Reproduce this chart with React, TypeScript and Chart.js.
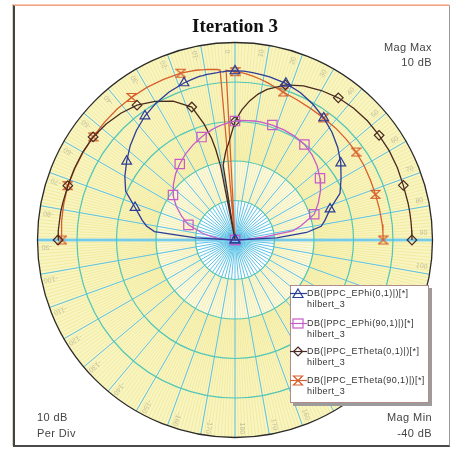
import React, { useEffect, useRef } from "react";
import { Chart, registerables } from "chart.js";
Chart.register(...registerables);

// angles in degrees (0 = top, clockwise positive)
const angleDeg = [-90, -87, -84, -81, -78, -72, -66, -60, -54, -48, -42, -36, -30, -24, -18, -15, -13, -12, -11, -10, -9, -6, -5, -4, -3, 0, 3, 6, 9, 12, 18, 24, 30, 36, 42, 48, 54, 60, 66, 72, 78, 81, 84, 87, 90];

const ephi0 = [-40, -30, -19.5, -17.3, -16, -13.4, -9.7, -7.8, -6.1, -4.3, -2.7, -1.2, 0, 1.0, 1.8, 2.1, 2.3, 2.4, 2.4, 2.5, 2.5, 2.6, 2.7, 2.7, 2.8, 2.8, 2.8, 2.6, 2.4, 2.2, 1.7, 0.8, -0.4, -1.8, -3.3, -5, -6.9, -9, -10.9, -14.7, -16.8, -17.9, -21.8, -29.4, -40];

const ephi90 = [-40, -38, -35.5, -33.5, -31.5, -27.6, -25.2, -22.8, -20.6, -19, -17.5, -16.2, -14.9, -13.7, -12.6, -12.0, -11.7, -11.5, -11.3, -11.2, -11.0, -10.6, -10.5, -10.4, -10.2, -9.9, -9.7, -9.6, -9.5, -9.4, -9.4, -9.5, -9.7, -10.1, -10.9, -12, -13.4, -15, -16.9, -18.9, -23, -25.2, -32.5, -37, -40];

const etheta0 = [4.8, 4.8, 4.7, 4.7, 4.6, 4.5, 4.5, 4.5, 4.4, 3.9, 3.2, 2.2, 0.5, -1.5, -4.6, -9.5, -13.5, -16.5, -21, -40, -20.8, -17.5, -16.5, -15.7, -14.5, -10, -7, -4.6, -2.6, -1.0, 1.3, 2.7, 3.7, 4.5, 4.9, 5.1, 5.1, 5.1, 5.0, 4.8, 4.8, 4.8, 4.8, 4.8, 4.8];

const etheta90 = [3.8, 4.0, 4.1, 4.2, 4.3, 4.5, 4.4, 4.4, 4.4, 4.5, 4.6, 4.6, 4.6, 4.5, 4.4, 4.2, 4.1, 4.0, 3.9, 3.8, 3.7, 3.4, 3.2, -40, 3.0, 2.6, 2.3, 1.8, 1.2, 0.6, -0.6, -1.2, -1.6, -1.8, -1.9, -2.0, -2.1, -2.3, -2.5, -2.6, -2.6, -2.6, -2.5, -2.5, -2.5];

const markerAngles = [-90, -72, -54, -36, -18, 0, 18, 36, 54, 72, 90];

const seriesNames = [
  "DB(|PPC_EPhi(0,1)|)[*]",
  "DB(|PPC_EPhi(90,1)|)[*]",
  "DB(|PPC_ETheta(0,1)|)[*]",
  "DB(|PPC_ETheta(90,1)|)[*]",
];
const sourceName = "hilbert_3";
const seriesColors = ["#2c3c98", "#c65cc8", "#4a2a20", "#d6602c"];

const magMax = 10;
const magMin = -40;
const perDiv = 10;
const gridLabelAngles = [-170, -160, -150, -140, -130, -120, -110, -100, -90, -80, -70, -60, -50, -40, -30, -20, -10, 0, 10, 20, 30, 40, 50, 60, 70, 80, 90, 100, 110, 120, 130, 140, 150, 160, 170, 180];

const titleText = "Iteration 3";

function toXY(values: number[]) {
  return values.map((v, i) => {
    const r = Math.max(v, magMin) - magMin;
    const t = (angleDeg[i] * Math.PI) / 180;
    return { x: r * Math.sin(t), y: r * Math.cos(t) };
  });
}

function makeHourglass(color: string) {
  const c = document.createElement("canvas");
  c.width = 11;
  c.height = 11;
  const g = c.getContext("2d")!;
  g.strokeStyle = color;
  g.lineWidth = 1.2;
  g.beginPath();
  g.moveTo(1, 1.5);
  g.lineTo(10, 1.5);
  g.lineTo(1, 9.5);
  g.lineTo(10, 9.5);
  g.closePath();
  g.stroke();
  return c;
}

const polarGrid = {
  id: "polarGrid",
  beforeDatasetsDraw(chart: any) {
    const { ctx, scales } = chart;
    const sx = scales.x;
    const sy = scales.y;
    const cx = sx.getPixelForValue(0);
    const cy = sy.getPixelForValue(0);
    const R = sx.getPixelForValue(magMax - magMin) - cx;
    const nDiv = (magMax - magMin) / perDiv;
    const d = R / nDiv;
    const pt = (deg: number, r: number) => {
      const t = (deg * Math.PI) / 180;
      return [cx + r * Math.sin(t), cy - r * Math.cos(t)];
    };
    ctx.save();
    ctx.beginPath();
    ctx.arc(cx, cy, R, 0, Math.PI * 2);
    ctx.fillStyle = "#f9f5c2";
    ctx.fill();
    ctx.beginPath();
    ctx.arc(cx, cy, 2 * d, 0, Math.PI * 2);
    ctx.fillStyle = "#fbfae2";
    ctx.fill();
    ctx.beginPath();
    ctx.arc(cx, cy, d, 0, Math.PI * 2);
    ctx.fillStyle = "#ffffff";
    ctx.fill();

    // fine yellow spokes
    ctx.strokeStyle = "rgba(230,215,95,0.6)";
    ctx.lineWidth = 0.6;
    for (let a = 0; a < 360; a += 1) {
      const inner = a % 2 === 0 ? d : 2 * d;
      const [x0, y0] = pt(a, inner);
      const [x1, y1] = pt(a, R);
      ctx.beginPath();
      ctx.moveTo(x0, y0);
      ctx.lineTo(x1, y1);
      ctx.stroke();
    }
    // blue spokes
    ctx.strokeStyle = "#5cc2e6";
    ctx.lineWidth = 1;
    for (let a = 0; a < 360; a += 5) {
      const outer = a % 10 === 0 ? R : d;
      const [x1, y1] = pt(a, outer);
      ctx.beginPath();
      ctx.moveTo(cx, cy);
      ctx.lineTo(x1, y1);
      ctx.stroke();
    }
    // horizontal axis emphasized
    ctx.strokeStyle = "#8ed6ee";
    ctx.lineWidth = 3;
    ctx.beginPath();
    ctx.moveTo(cx - R, cy);
    ctx.lineTo(cx + R, cy);
    ctx.stroke();
    ctx.strokeStyle = "#5cc2e6";
    ctx.lineWidth = 1;
    ctx.beginPath();
    ctx.moveTo(cx - R, cy);
    ctx.lineTo(cx + R, cy);
    ctx.stroke();

    // rings
    ctx.strokeStyle = "#52c6b6";
    ctx.lineWidth = 1.2;
    for (let k = 1; k < nDiv; k++) {
      ctx.beginPath();
      ctx.arc(cx, cy, k * d, 0, Math.PI * 2);
      ctx.stroke();
    }
    // faint angle labels
    ctx.fillStyle = "rgba(150,150,130,0.55)";
    ctx.font = "7px 'Liberation Sans', Arial, sans-serif";
    ctx.textAlign = "center";
    ctx.textBaseline = "middle";
    for (const a of gridLabelAngles) {
      const [px, py] = pt(a - 2, R - 9);
      ctx.save();
      ctx.translate(px, py);
      ctx.rotate(((a - 90) * Math.PI) / 180);
      ctx.fillText(String(a), 0, 0);
      ctx.restore();
    }
    // outer circle
    ctx.strokeStyle = "#2a2a2a";
    ctx.lineWidth = 1.3;
    ctx.beginPath();
    ctx.arc(cx, cy, R, 0, Math.PI * 2);
    ctx.stroke();
    ctx.restore();
  },
};

const textFont = "'Liberation Sans', Arial, sans-serif";

function LegendIcon({ kind, color }: { kind: number; color: string }) {
  let marker: any = null;
  if (kind === 0) marker = <polygon points="8,1 13,9.5 3,9.5" fill="none" stroke={color} strokeWidth={1.2} />;
  if (kind === 1) marker = <rect x={3} y={1} width={10} height={9} fill="none" stroke={color} strokeWidth={1.2} />;
  if (kind === 2) marker = <polygon points="8,1 12.5,5.5 8,10 3.5,5.5" fill="none" stroke={color} strokeWidth={1.2} />;
  if (kind === 3) marker = <polygon points="3.5,1 12.5,1 3.5,10 12.5,10" fill="none" stroke={color} strokeWidth={1.2} />;
  return (
    <svg width={17} height={11} style={{ position: "absolute", left: -1, top: 0, overflow: "visible" }}>
      <line x1={0} y1={5.5} x2={17} y2={5.5} stroke={color} strokeWidth={1.2} />
      {marker}
    </svg>
  );
}

export default function App() {
  const ref = useRef<HTMLCanvasElement>(null);
  useEffect(() => {
    const canvas = ref.current!;
    const hour = makeHourglass(seriesColors[3]);
    const styles: any[] = ["triangle", "rect", "rectRot", hour];
    const radii = [5.6, 6.6, 4.8, 5.5];
    const all = [ephi0, ephi90, etheta0, etheta90];
    const datasets = all.map((vals, si) => ({
      label: seriesNames[si],
      data: toXY(vals),
      showLine: true,
      borderColor: seriesColors[si],
      borderWidth: 1.3,
      pointStyle: styles[si],
      pointBorderColor: seriesColors[si],
      pointBackgroundColor: "rgba(0,0,0,0)",
      pointBorderWidth: 1.2,
      pointRadius: (c: any) => (markerAngles.includes(angleDeg[c.dataIndex]) ? radii[si] : 0),
      pointHoverRadius: 0,
      clip: false,
      tension: 0,
    }));
    const chart = new Chart(canvas, {
      type: "scatter",
      data: { datasets },
      options: {
        animation: false,
        responsive: false,
        maintainAspectRatio: false,
        layout: { padding: { left: 37.5, right: 21.5, top: 42.5, bottom: 12.5 } },
        scales: {
          x: { type: "linear", min: -(magMax - magMin), max: magMax - magMin, display: false },
          y: { type: "linear", min: -(magMax - magMin), max: magMax - magMin, display: false },
        },
        plugins: { legend: { display: false }, tooltip: { enabled: false } },
        events: [],
      },
      plugins: [polarGrid],
    });
    return () => chart.destroy();
  }, []);

  const legendTops = [7, 37, 65, 94];
  return (
    <div style={{ position: "absolute", left: 0, top: 0, width: 454, height: 450, background: "#ffffff", overflow: "hidden" }}>
      <div
        style={{
          position: "absolute",
          left: 13,
          top: 5,
          width: 434,
          height: 439,
          borderTop: "1px solid #f2a585",
          borderLeft: "2px solid #34494a",
          borderRight: "1px solid #9a9a9a",
          borderBottom: "2px solid #4a4a4a",
          boxShadow: "-1px -1px 0 #f7c8b0",
        }}
      />
      <canvas ref={ref} width={454} height={450} style={{ position: "absolute", left: 0, top: 0, width: 454, height: 450 }} />
      <div
        style={{
          position: "absolute",
          left: 135,
          width: 200,
          top: 15,
          textAlign: "center",
          font: "bold 19px 'Liberation Serif', 'Times New Roman', serif",
          lineHeight: "21px",
          color: "#111",
        }}
      >
        {titleText}
      </div>
      <div style={{ position: "absolute", right: 22, top: 40.4, textAlign: "right", font: `11px ${textFont}`, lineHeight: "15px", letterSpacing: "0.4px", color: "#444" }}>
        <div>Mag Max</div>
        <div>{magMax} dB</div>
      </div>
      <div style={{ position: "absolute", left: 37, top: 410.4, textAlign: "left", font: `11px ${textFont}`, lineHeight: "15.3px", letterSpacing: "0.4px", color: "#444" }}>
        <div>{perDiv} dB</div>
        <div>Per Div</div>
      </div>
      <div style={{ position: "absolute", right: 22, top: 410.4, textAlign: "right", font: `11px ${textFont}`, lineHeight: "15.3px", letterSpacing: "0.4px", color: "#444" }}>
        <div>Mag Min</div>
        <div>{magMin} dB</div>
      </div>
      <div
        style={{
          position: "absolute",
          left: 290,
          top: 285,
          width: 137,
          height: 116,
          background: "#ffffff",
          border: "1px solid #b08c8c",
          boxShadow: "3px 3px 0 #9c9c9c",
        }}
      >
        {seriesNames.map((n, i) => (
          <div key={i} style={{ position: "absolute", left: 0, top: legendTops[i] - 5.5, width: 137 }}>
            <LegendIcon kind={i} color={seriesColors[i]} />
            <div style={{ position: "absolute", left: 16, top: 0, font: `9px ${textFont}`, lineHeight: "11.5px", letterSpacing: "0.4px", color: "#333", whiteSpace: "nowrap" }}>
              <div>{n}</div>
              <div>{sourceName}</div>
            </div>
          </div>
        ))}
      </div>
    </div>
  );
}
